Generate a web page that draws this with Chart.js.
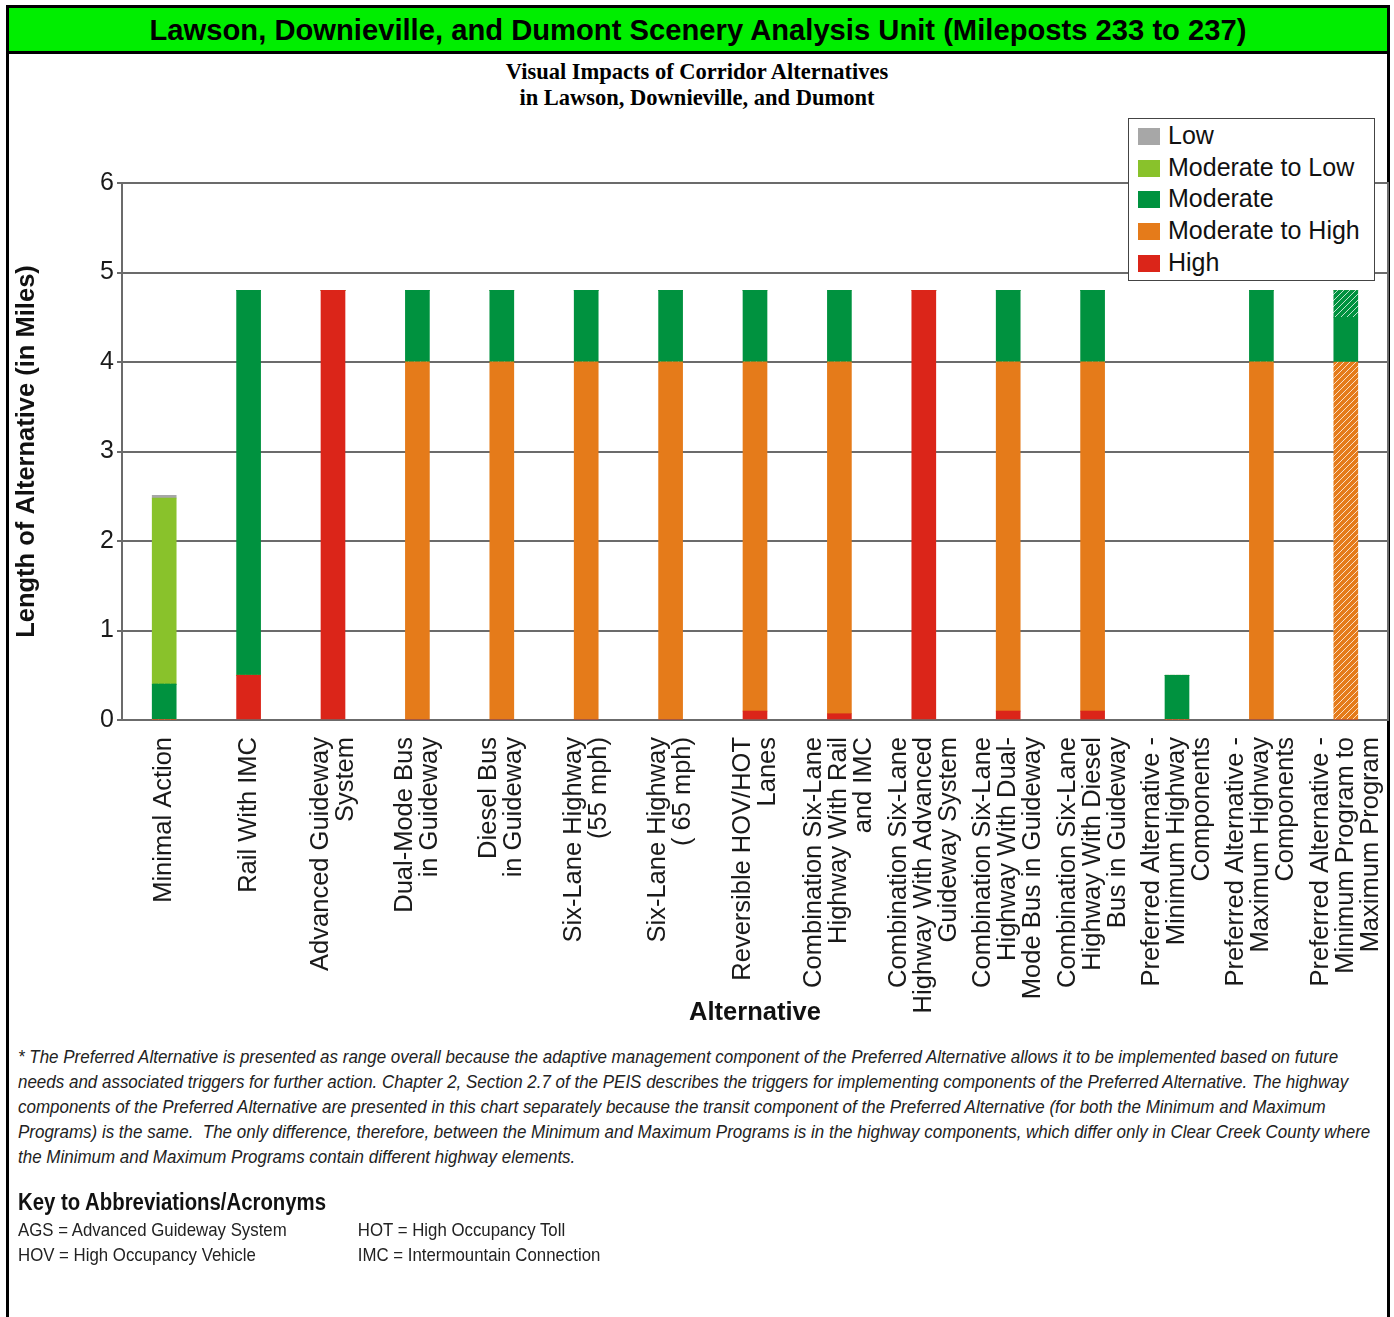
<!DOCTYPE html>
<html>
<head>
<meta charset="utf-8">
<script src="https://cdn.jsdelivr.net/npm/chart.js@4.4.1/dist/chart.umd.min.js"></script>
<style>
  body { margin: 0; background: #fff; font-family: "Liberation Sans", Arial, sans-serif; }
  #page { position: relative; width: 1394px; height: 1317px; overflow: hidden; }
  #frame { position: absolute; left: 6px; top: 5px; width: 1384px; height: 1330px;
           border: 3px solid #000; border-bottom: none; box-sizing: border-box; }
  #header { position: absolute; left: 6px; top: 5px; width: 1384px; height: 49px; background: #00ee00;
            border: 3px solid #000; box-sizing: border-box; text-align: center;
            font: bold 29.2px "Liberation Sans", Arial, sans-serif; line-height: 44px; color: #000; }
  #subtitle { position: absolute; left: 0; top: 59px; width: 1394px; text-align: center;
              font: bold 22.5px "Liberation Serif", "Times New Roman", serif; line-height: 26px; color: #000; }
  #wrap { position: absolute; left: 0; top: 110px; width: 1394px; height: 930px; }
  #legend { position: absolute; left: 1128px; top: 118px; width: 247px; height: 163px; background: #fff;
            border: 1px solid #444; box-sizing: border-box; padding: 1px 0 0 9px; z-index: 2; }
  #legend div { height: 31.7px; line-height: 31px; font-size: 25px; color: #111; white-space: nowrap; }
  #legend span { display: inline-block; width: 22px; height: 17px; margin-right: 8px; vertical-align: -1px; }
  #note { position: absolute; left: 18px; top: 1044px; font: italic 19px "Liberation Sans Narrow", "Liberation Sans", Arial, sans-serif;
          line-height: 25px; color: #222; white-space: nowrap; transform-origin: 0 0; }
  #key { position: absolute; left: 18px; top: 1187px; font: 19px "Liberation Sans Narrow", "Liberation Sans", Arial, sans-serif;
         line-height: 25px; color: #222; white-space: nowrap; transform-origin: 0 0; transform: scaleX(0.885); }
  #key b { font-size: 23px; display: block; line-height: 30px; color: #111; }
  #key .c2 { position: absolute; left: 384px; }
</style>
</head>
<body>
<div id="page">
  <div id="frame"></div>
  <div id="header">Lawson, Downieville, and Dumont Scenery Analysis Unit (Mileposts 233 to 237)</div>
  <div id="subtitle">Visual Impacts of Corridor Alternatives<br>in Lawson, Downieville, and Dumont</div>
  <div id="wrap"><canvas id="chart" width="1394" height="930"></canvas></div>
  <div id="legend"></div>
  <div id="note">* The Preferred Alternative is presented as range overall because the adaptive management component of the Preferred Alternative allows it to be implemented based on future<br>needs and associated triggers for further action. Chapter 2, Section 2.7 of the PEIS describes the triggers for implementing components of the Preferred Alternative. The highway<br>components of the Preferred Alternative are presented in this chart separately because the transit component of the Preferred Alternative (for both the Minimum and Maximum<br>Programs) is the same.&nbsp; The only difference, therefore, between the Minimum and Maximum Programs is in the highway components, which differ only in Clear Creek County where<br>the Minimum and Maximum Programs contain different highway elements.</div>
  <div id="key">
    <b>Key to Abbreviations/Acronyms</b>
    <div>AGS = Advanced Guideway System<span class="c2">HOT = High Occupancy Toll</span></div>
    <div>HOV = High Occupancy Vehicle<span class="c2">IMC = Intermountain Connection</span></div>
  </div>
</div>
<script>
// categories (x axis), one per alternative
const alternatives = [
  ["Minimal Action"],
  ["Rail With IMC"],
  ["Advanced Guideway", "System"],
  ["Dual-Mode Bus", "in Guideway"],
  ["Diesel Bus", "in Guideway"],
  ["Six-Lane Highway", "(55 mph)"],
  ["Six-Lane Highway", "( 65 mph)"],
  ["Reversible HOV/HOT", "Lanes"],
  ["Combination Six-Lane", "Highway With Rail", "and IMC"],
  ["Combination Six-Lane", "Highway With Advanced", "Guideway System"],
  ["Combination Six-Lane", "Highway With Dual-", "Mode Bus in Guideway"],
  ["Combination Six-Lane", "Highway With Diesel", "Bus in Guideway"],
  ["Preferred Alternative -", "Minimum Highway", "Components"],
  ["Preferred Alternative -", "Maximum Highway", "Components"],
  ["Preferred Alternative -", "Minimum Program to", "Maximum Program"]
];

// miles of each impact level, stacked bottom to top
const high          = [0,    0.5, 4.8, 0,   0,   0,   0,   0.1, 0.07, 4.8, 0.1, 0.1, 0,   0,   0];
const modHigh       = [0,    0,   0,   4.0, 4.0, 4.0, 4.0, 3.9, 3.93, 0,   3.9, 3.9, 0,   4.0, 0];
const modHighRange  = [0,    0,   0,   0,   0,   0,   0,   0,   0,    0,   0,   0,   0,   0,   4.0];
const moderate      = [0.4,  4.3, 0,   0.8, 0.8, 0.8, 0.8, 0.8, 0.8,  0,   0.8, 0.8, 0.5, 0.8, 0.5];
const moderateRange = [0,    0,   0,   0,   0,   0,   0,   0,   0,    0,   0,   0,   0,   0,   0.3];
const modLow        = [2.08, 0,   0,   0,   0,   0,   0,   0,   0,    0,   0,   0,   0,   0,   0];
const low           = [0.03, 0,   0,   0,   0,   0,   0,   0,   0,    0,   0,   0,   0,   0,   0];

const yTicks = [0, 1, 2, 3, 4, 5, 6];

const colors = {
  low: '#a7a7a7',
  modLow: '#89c22b',
  moderate: '#00923f',
  modHigh: '#e57b1a',
  high: '#db2519'
};

function hatch(color) {
  const c = document.createElement('canvas');
  c.width = 6; c.height = 6;
  const g = c.getContext('2d');
  g.fillStyle = color;
  g.fillRect(0, 0, 6, 6);
  g.strokeStyle = 'rgba(255,255,255,0.75)';
  g.lineWidth = 1;
  g.beginPath();
  g.moveTo(-1, 7); g.lineTo(7, -1);
  g.moveTo(-1, 1); g.lineTo(1, -1);
  g.moveTo(5, 7); g.lineTo(7, 5);
  g.stroke();
  return g.createPattern(c, 'repeat');
}

// Chart.js puts the first line of a rotated label on the tick; with half-height
// lines and blank spacers each label ends up centred on its bar
function centredLines(lines) {
  const out = [];
  for (let i = 0; i < 3 - lines.length; i++) out.push('');
  lines.forEach((l, i) => { if (i) out.push(''); out.push(l); });
  return out;
}

const legendItems = [
  ['Low', colors.low],
  ['Moderate to Low', colors.modLow],
  ['Moderate', colors.moderate],
  ['Moderate to High', colors.modHigh],
  ['High', colors.high]
];
document.getElementById('legend').innerHTML = legendItems
  .map(([t, c]) => `<div><span style="background:${c}"></span>${t}</div>`).join('');

// squeeze the footnote to the narrow width of the original
const note = document.getElementById('note');
note.style.transform = `scaleX(${1352 / note.scrollWidth})`;

const bar = (label, data, bg) => ({ label, data, backgroundColor: bg, stack: 's', barThickness: 24 });

const labelSize = 25.5, lineStep = 12.5;

new Chart(document.getElementById('chart'), {
  type: 'bar',
  data: {
    labels: alternatives,
    datasets: [
      bar('High', high, colors.high),
      bar('Moderate to High', modHigh, colors.modHigh),
      bar('Moderate to High (range)', modHighRange, hatch(colors.modHigh)),
      bar('Moderate', moderate, colors.moderate),
      bar('Moderate (range)', moderateRange, hatch(colors.moderate)),
      bar('Moderate to Low', modLow, colors.modLow),
      bar('Low', low, colors.low)
    ]
  },
  options: {
    responsive: false,
    animation: false,
    devicePixelRatio: 1,
    layout: { autoPadding: false, padding: { top: 73, right: 6, left: 0, bottom: 0 } },
    plugins: { legend: { display: false }, tooltip: { enabled: false } },
    scales: {
      x: {
        stacked: true,
        grid: { display: false },
        border: { display: true, color: '#6b6b6b', width: 2 },
        ticks: {
          autoSkip: false, minRotation: 90, maxRotation: 90, padding: 9,
          labelOffset: -2 * lineStep,
          callback: (v, i) => centredLines(alternatives[i]),
          color: '#1a1a1a', font: { family: 'Liberation Sans', size: labelSize, lineHeight: lineStep / labelSize }
        },
        title: {
          display: true, text: 'Alternative', color: '#111',
          font: { family: 'Liberation Sans', size: 25.5, weight: 'bold' },
          padding: { top: 0, bottom: 12 }
        },
        afterFit: s => { s.height = 320; s.paddingLeft = 0; s.paddingRight = 0; }
      },
      y: {
        stacked: true,
        min: 0, max: 6,
        afterBuildTicks: s => { s.ticks = yTicks.map(v => ({ value: v })); },
        grid: { color: '#6b6b6b', lineWidth: 2, tickLength: 5 },
        border: { display: true, color: '#6b6b6b', width: 2 },
        ticks: { padding: 3, color: '#1a1a1a', font: { family: 'Liberation Sans', size: 25 } },
        title: {
          display: true, text: 'Length of Alternative (in Miles)', color: '#111',
          font: { family: 'Liberation Sans', size: 25.5, weight: 'bold' },
          padding: { top: 12, bottom: 0 }
        },
        afterFit: s => { s.width = 122; }
      },
      yRight: {
        position: 'right',
        min: 0, max: 6,
        grid: { display: false, drawTicks: false },
        border: { display: true, color: '#6b6b6b', width: 2 },
        ticks: { display: false },
        afterFit: s => { s.width = 0; }
      }
    }
  }
});
</script>
</body>
</html>
